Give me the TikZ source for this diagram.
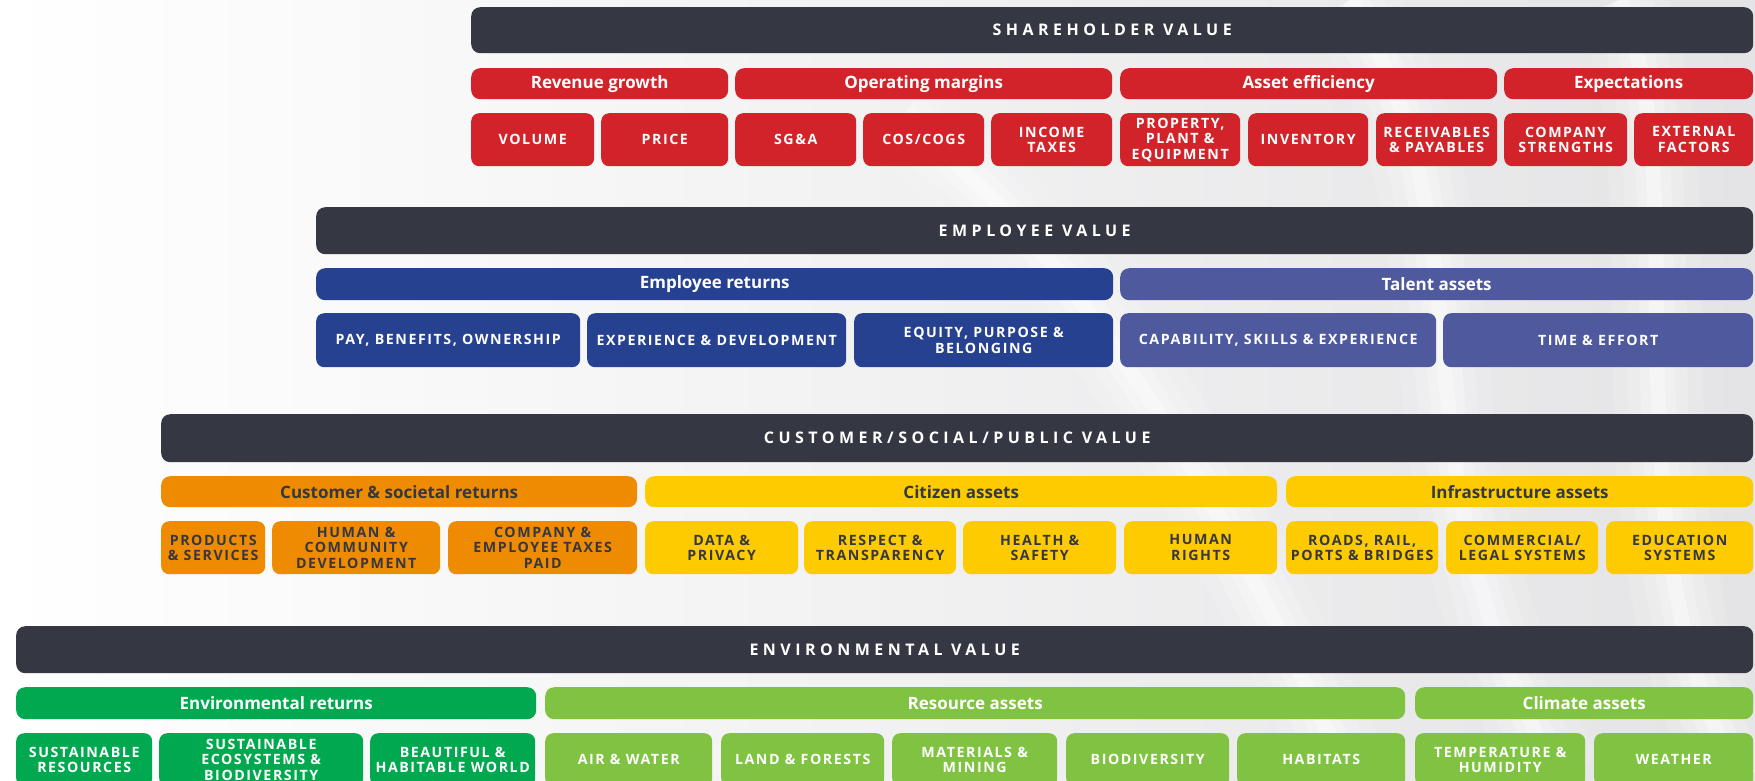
\documentclass[tikz,border=0pt]{standalone}
\usepackage{fontspec}
\setmainfont{Open Sans}
\newfontfamily\barfont{Open Sans}[LetterSpace=28]
\newfontfamily\capfont{Open Sans}[LetterSpace=11]
\newfontfamily\headfont{Open Sans}

\definecolor{barc}{HTML}{353743}
\definecolor{redc}{HTML}{D2232A}
\definecolor{bluec}{HTML}{26418F}
\definecolor{talentc}{HTML}{4F5A9E}
\definecolor{orangec}{HTML}{EE8B00}
\definecolor{yellowc}{HTML}{FDCB00}
\definecolor{greenc}{HTML}{00A94F}
\definecolor{limec}{HTML}{80C342}
\definecolor{bgc}{HTML}{E4E4E6}

\tikzset{
  box/.style={anchor=north west, inner sep=0pt, align=center},
  valuebar/.style={box, fill=barc, text=white, rounded corners=9pt,
    font=\barfont\bfseries\fontsize{16}{16}\selectfont},
  groupbar/.style={box, rounded corners=9pt,
    font=\headfont\bfseries\fontsize{17}{17}\selectfont},
  itembox/.style={box, rounded corners=8pt,
    font=\capfont\bfseries\fontsize{14.2}{15.5}\selectfont},
  onred/.style={fill=redc, text=white},
  onblue/.style={fill=bluec, text=white},
  ontalent/.style={fill=talentc, text=white},
  onorange/.style={fill=orangec, text=barc},
  onyellow/.style={fill=yellowc, text=barc},
  ongreen/.style={fill=greenc, text=white},
  onlime/.style={fill=limec, text=white},
}

% \cell{name}{x1}{y1}{x2}{y2}{styles}{text}
\newcommand\cell[7]{%
  \node[#6, minimum width={(#4-#2)*1pt}, minimum height={(#5-#3)*1pt}]
    (#1) at (#2,#3) {#7};}

\begin{document}
\begin{tikzpicture}[x=1pt,y=-1pt]
\useasboundingbox (0,0) rectangle (1755,780);
\clip (0,0) rectangle (1755,780);

% silvery backdrop
\fill[left color=white, right color=bgc] (0,0) rectangle (1755,780);
\foreach \w/\o in {90/0.12,60/0.18,35/0.25,15/0.35}{
  \draw[white, line width=\w pt, opacity=\o]
    (1350,0) .. controls (1500,250) and (1380,450) .. (1560,780);
  \draw[white, line width=\w pt, opacity=\o]
    (1620,0) .. controls (1700,200) and (1600,520) .. (1740,780);
  \draw[white, line width=\w pt, opacity=\o]
    (900,120) .. controls (1100,260) and (1250,560) .. (1350,780);
}

% ---------------- Shareholder value ----------------
\cell{sh}{471}{7}{1753}{53}{valuebar}{SHAREHOLDER VALUE}
\cell{shrev}{471}{68}{728}{99}{groupbar,onred}{Revenue growth}
\cell{shopm}{735}{68}{1112}{99}{groupbar,onred}{Operating margins}
\cell{shass}{1120}{68}{1497}{99}{groupbar,onred}{Asset efficiency}
\cell{shexp}{1504}{68}{1753}{99}{groupbar,onred}{Expectations}
\cell{shvol}{471}{113}{594}{166}{itembox,onred}{VOLUME}
\cell{shpri}{601}{113}{728}{166}{itembox,onred}{PRICE}
\cell{shsga}{735}{113}{856}{166}{itembox,onred}{SG\&A}
\cell{shcos}{863}{113}{984}{166}{itembox,onred}{COS/COGS}
\cell{shtax}{991}{113}{1112}{166}{itembox,onred}{INCOME\\TAXES}
\cell{shppe}{1120}{113}{1240}{166}{itembox,onred}{PROPERTY,\\PLANT \&\\EQUIPMENT}
\cell{shinv}{1248}{113}{1368}{166}{itembox,onred}{INVENTORY}
\cell{shrec}{1376}{113}{1497}{166}{itembox,onred}{RECEIVABLES\\\& PAYABLES}
\cell{shcom}{1504}{113}{1627}{166}{itembox,onred}{COMPANY\\STRENGTHS}
\cell{shext}{1634}{113}{1753}{166}{itembox,onred}{EXTERNAL\\FACTORS}

% ---------------- Employee value ----------------
\cell{em}{316}{207}{1753}{254}{valuebar}{EMPLOYEE VALUE}
\cell{emret}{316}{268}{1113}{300}{groupbar,onblue}{Employee returns}
\cell{emtal}{1120}{268}{1753}{300}{groupbar,ontalent}{Talent assets}
\cell{empay}{316}{313}{580}{367}{itembox,onblue}{PAY, BENEFITS, OWNERSHIP}
\cell{emexp}{587}{313}{846}{367}{itembox,onblue}{EXPERIENCE \& DEVELOPMENT}
\cell{emequ}{854}{313}{1113}{367}{itembox,onblue}{EQUITY, PURPOSE \&\\BELONGING}
\cell{emcap}{1120}{313}{1436}{367}{itembox,ontalent}{CAPABILITY, SKILLS \& EXPERIENCE}
\cell{emtim}{1443}{313}{1753}{367}{itembox,ontalent}{TIME \& EFFORT}

% ---------------- Customer / social / public value ----------------
\cell{cu}{161}{414}{1753}{462}{valuebar}{CUSTOMER/SOCIAL/PUBLIC VALUE}
\cell{curet}{161}{476}{637}{507}{groupbar,onorange}{Customer \& societal returns}
\cell{cucit}{645}{476}{1277}{507}{groupbar,onyellow}{Citizen assets}
\cell{cuinf}{1286}{476}{1753}{507}{groupbar,onyellow}{Infrastructure assets}
\cell{cupro}{161}{521}{265}{574}{itembox,onorange}{PRODUCTS\\\& SERVICES}
\cell{cuhum}{272}{521}{440}{574}{itembox,onorange}{HUMAN \&\\COMMUNITY\\DEVELOPMENT}
\cell{cutax}{448}{521}{637}{574}{itembox,onorange}{COMPANY \&\\EMPLOYEE TAXES\\PAID}
\cell{cudat}{645}{521}{798}{574}{itembox,onyellow}{DATA \&\\PRIVACY}
\cell{cures}{804}{521}{956}{574}{itembox,onyellow}{RESPECT \&\\TRANSPARENCY}
\cell{cuhea}{963}{521}{1116}{574}{itembox,onyellow}{HEALTH \&\\SAFETY}
\cell{cuhr}{1124}{521}{1277}{574}{itembox,onyellow}{HUMAN\\RIGHTS}
\cell{curoa}{1286}{521}{1438}{574}{itembox,onyellow}{ROADS, RAIL,\\PORTS \& BRIDGES}
\cell{cucml}{1446}{521}{1598}{574}{itembox,onyellow}{COMMERCIAL/\\LEGAL SYSTEMS}
\cell{cuedu}{1606}{521}{1753}{574}{itembox,onyellow}{EDUCATION\\SYSTEMS}

% ---------------- Environmental value ----------------
\cell{en}{16}{626}{1753}{673}{valuebar}{ENVIRONMENTAL VALUE}
\cell{enret}{16}{687}{536}{719}{groupbar,ongreen}{Environmental returns}
\cell{enres}{545}{687}{1405}{719}{groupbar,onlime}{Resource assets}
\cell{encli}{1415}{687}{1753}{719}{groupbar,onlime}{Climate assets}
\cell{ensr}{16}{733}{152}{786}{itembox,ongreen}{SUSTAINABLE\\RESOURCES}
\cell{ense}{159}{733}{363}{786}{itembox,ongreen}{SUSTAINABLE\\ECOSYSTEMS \&\\BIODIVERSITY}
\cell{enbh}{370}{733}{535}{786}{itembox,ongreen}{BEAUTIFUL \&\\HABITABLE WORLD}
\cell{enaw}{545}{733}{712}{786}{itembox,onlime}{AIR \& WATER}
\cell{enlf}{721}{733}{884}{786}{itembox,onlime}{LAND \& FORESTS}
\cell{enmm}{892}{733}{1057}{786}{itembox,onlime}{MATERIALS \&\\MINING}
\cell{enbd}{1066}{733}{1229}{786}{itembox,onlime}{BIODIVERSITY}
\cell{enhb}{1237}{733}{1405}{786}{itembox,onlime}{HABITATS}
\cell{enth}{1415}{733}{1585}{786}{itembox,onlime}{TEMPERATURE \&\\HUMIDITY}
\cell{enwe}{1594}{733}{1753}{786}{itembox,onlime}{WEATHER}
\end{tikzpicture}
\end{document}
